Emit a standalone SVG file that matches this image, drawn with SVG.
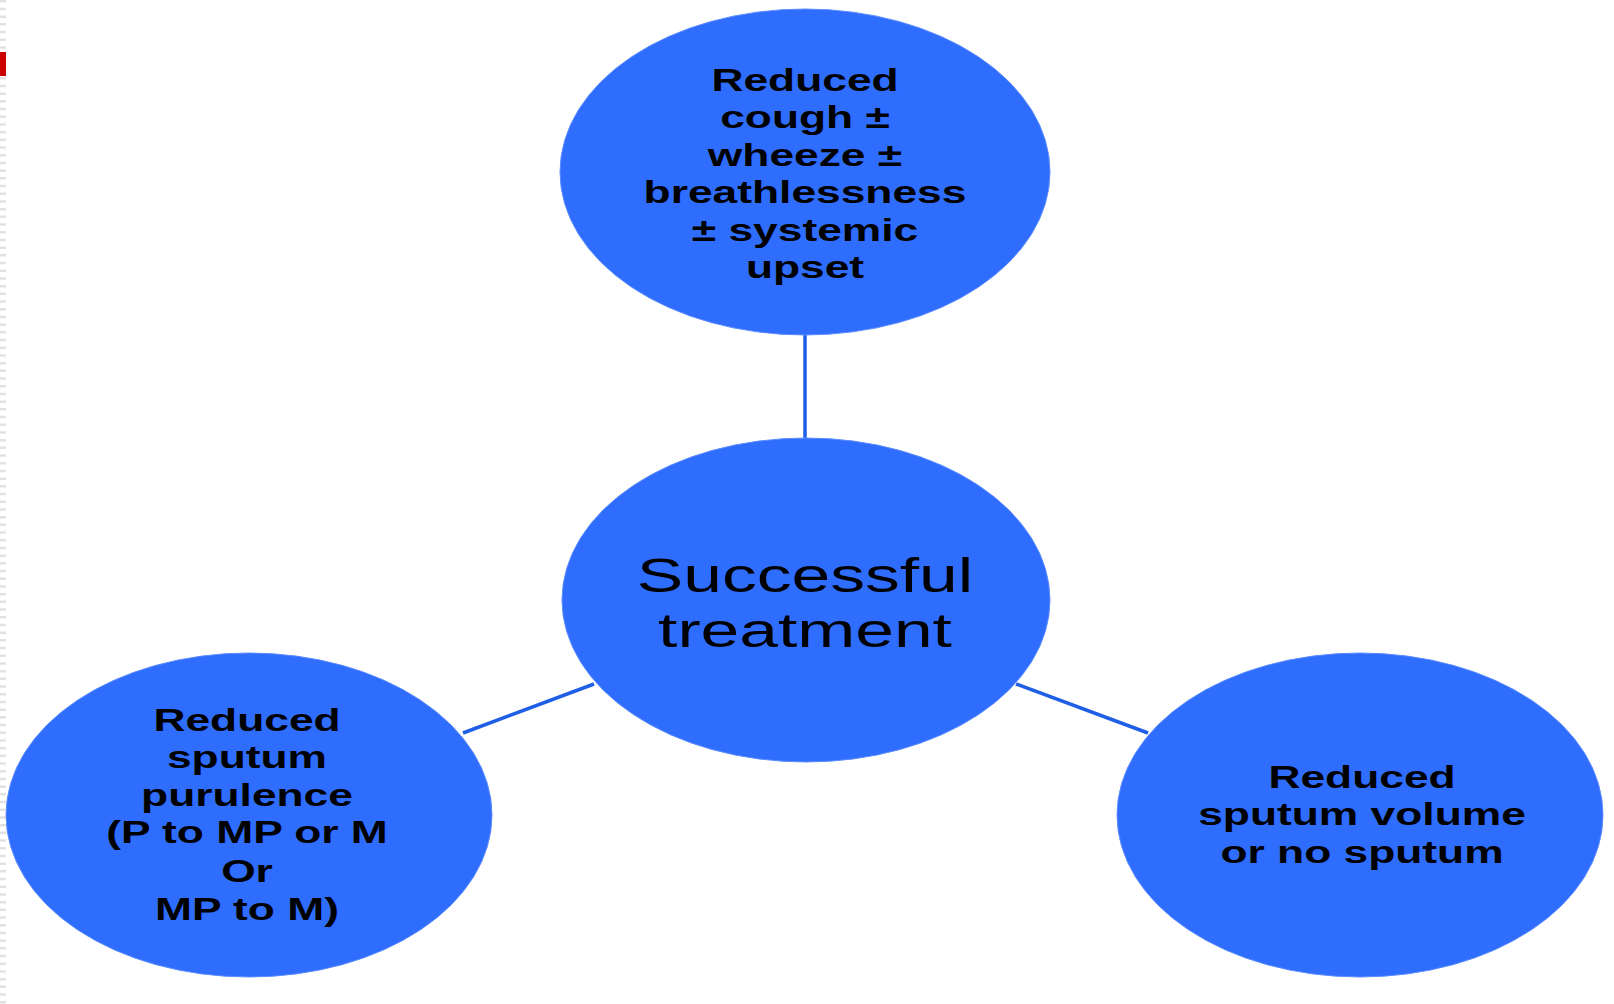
<svg xmlns="http://www.w3.org/2000/svg" width="1614" height="1004" viewBox="0 0 1614 1004">
<style>
.node{fill:#2f6dfe;stroke:#5b8cff;stroke-width:1}
.t{font-family:"Liberation Sans",Arial,sans-serif;font-weight:bold;font-size:31px;fill:#000;text-anchor:middle}
.big{font-family:"Liberation Sans",Arial,sans-serif;font-weight:normal;font-size:49px;fill:#000;text-anchor:middle}
.conn{stroke:#1f5fe6;stroke-width:3.5;fill:none;stroke-linecap:butt}
</style>
<rect width="1614" height="1004" fill="#fff"/>
<line x1="3" y1="0" x2="3" y2="1004" stroke="#e2e2e2" stroke-width="6" stroke-dasharray="2.5 5.2"/>
<rect x="0" y="52" width="6" height="24" fill="#cc0000"/>
<g id="connectors">
<line class="conn" x1="805" y1="335" x2="805" y2="438"/>
<line class="conn" x1="463" y1="733" x2="594" y2="684"/>
<line class="conn" x1="1016" y1="684" x2="1148" y2="733"/>
</g>
<g id="node-top">
<ellipse class="node" cx="805" cy="172" rx="245" ry="163"/>
<g transform="translate(805,0) scale(1.43,1)">
<text class="t" x="0" y="91">Reduced</text>
<text class="t" x="0" y="128">cough ±</text>
<text class="t" x="0" y="166">wheeze ±</text>
<text class="t" x="0" y="203">breathlessness</text>
<text class="t" x="0" y="241">± systemic</text>
<text class="t" x="0" y="278">upset</text>
</g>
</g>
<g id="node-center">
<ellipse class="node" cx="806" cy="600" rx="244" ry="162"/>
<g transform="translate(805,0) scale(1.42,1)">
<text class="big" x="0" y="592">Successful</text>
<text class="big" x="0" y="647">treatment</text>
</g>
</g>
<g id="node-left">
<ellipse class="node" cx="249" cy="815" rx="243" ry="162"/>
<g transform="translate(247,0) scale(1.43,1)">
<text class="t" x="0" y="731">Reduced</text>
<text class="t" x="0" y="768">sputum</text>
<text class="t" x="0" y="806">purulence</text>
<text class="t" x="0" y="843">(P to MP or M</text>
<text class="t" x="0" y="882">Or</text>
<text class="t" x="0" y="920">MP to M)</text>
</g>
</g>
<g id="node-right">
<ellipse class="node" cx="1360" cy="815" rx="243" ry="162"/>
<g transform="translate(1362,0) scale(1.43,1)">
<text class="t" x="0" y="788">Reduced</text>
<text class="t" x="0" y="825">sputum volume</text>
<text class="t" x="0" y="863">or no sputum</text>
</g>
</g>
</svg>
